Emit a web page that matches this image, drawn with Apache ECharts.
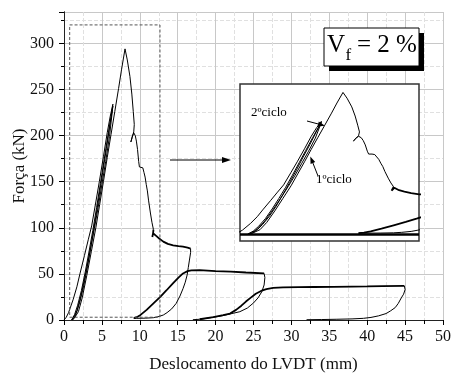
<!DOCTYPE html>
<html><head><meta charset="utf-8">
<script src="https://cdn.jsdelivr.net/npm/echarts@6/dist/echarts.min.js"></script>
<style>html,body{margin:0;padding:0;background:#fff}#c{width:452px;height:374px}</style>
</head><body><div id="c"></div>
<script>
// ---- tick values / labels ----
const xTicks = [0, 5, 10, 15, 20, 25, 30, 35, 40, 45, 50];
const yTicks = [0, 50, 100, 150, 200, 250, 300];
const yTop = 334;
const xTitle = 'Deslocamento do LVDT (mm)';
const yTitle = 'Força (kN)';

// ---- initial load/unload cycles ----
const load1 = [[0,0],[0.3,3],[0.6,8],[1.2,22],[1.7,36],[2.1,50],[2.7,70],[3.2,87],[3.65,102],[4.2,128],[4.66,150],[5.2,177],[5.7,203],[6.1,221],[6.45,234]];
const unload1 = [[6.45,234],[6.2,220],[5.8,200],[5.3,174],[4.8,148],[4.3,122],[3.8,97],[3.3,74],[2.8,52],[2.3,32],[1.8,16],[1.4,6],[1.0,0]];
const load2 = [[1.0,0],[1.3,3],[1.7,10],[2.2,25],[2.8,48],[3.4,73],[4.0,99],[4.5,122],[5.0,147],[5.5,172],[6.0,199],[6.45,232]];
const unload2 = [[6.45,232],[6.1,214],[5.6,186],[5.1,160],[4.6,133],[4.1,107],[3.6,82],[3.1,58],[2.6,37],[2.1,20],[1.7,9],[1.35,2],[1.1,0]];
const load3 = [[1.1,0],[1.4,2.5],[1.9,9],[2.4,24],[3.0,48],[3.6,74],[4.2,100],[4.7,125],[5.2,150],[5.7,176],[6.2,201],[6.7,226],[7.2,251],[7.6,272],[8.05,294]];
// ---- post-peak softening ----
const postPeak = [[8.05,294],[8.35,282],[8.7,264],[8.95,245],[9.14,226],[9.27,212],[9.2,204],[9.0,198],[8.82,193],[9.0,199],[9.2,203],[9.4,200],[9.55,194],[9.7,185],[9.85,172],[9.95,166],[10.2,166],[10.4,165],[10.55,160],[10.7,155],[10.85,147],[11.0,140],[11.15,130],[11.4,116],[11.6,106],[11.8,98]];
const plateau1 = [[11.8,98],[11.75,94],[11.65,90],[11.75,94],[11.85,96],[12.2,91],[12.6,88],[13.1,85],[13.7,82.5],[14.4,81],[15.1,80],[15.7,79.5],[16.3,78.5],[16.7,77.5]];
const unload3 = [[16.7,77.5],[16.7,73],[16.55,65],[16.4,57],[16.25,49],[16.0,41],[15.7,34],[15.3,26],[14.8,18],[14.2,12],[13.6,8],[13.1,5.4],[12.4,3.5],[11.8,2.5],[10.8,2],[9.6,1.8],[9.2,1.8]];
const reload3 = [[9.2,2],[9.6,3],[10.1,5.5],[10.9,11],[11.8,18],[12.7,25],[13.5,32],[14.4,40],[15.1,46],[15.7,50.5],[16.3,53],[16.8,53.8],[17.9,54],[20,53],[22,52.5],[24,51.5],[26.4,50.5]];
const unload4 = [[26.4,50.5],[26.5,46],[26.4,38],[26.1,30.7],[25.6,24],[25,18.5],[24.2,13],[23.2,9],[21.9,6.5],[20.8,4.5],[19.7,3],[18.8,1.8],[17.9,0.8],[17,0.3]];
const reload4 = [[17.9,0.8],[19.7,3.2],[21,5.2],[21.9,7],[22.7,11],[23.4,15.5],[24,20],[24.6,24],[25.3,28.5],[26,31.5],[26.7,33.5],[27.6,34.8],[28.9,35.4],[31,35.6],[33,35.8],[35.5,36],[38,36.3],[40,36.5],[42,36.8],[44.9,37]];
const unload5 = [[44.9,37],[45,33],[44.8,28],[44.5,24],[44.1,18],[43.7,13.5],[43.1,10],[42.5,7],[41.5,4.5],[40.5,2.8],[39.5,1.8],[38,1.2],[36,0.8],[34,0.5],[32,0.3]];
// ---- zoom window drawn as dashed box (data units) ----
const zoomBox = [[0.75,3],[12.66,3],[12.66,320],[0.75,320],[0.75,3]];
const insetX = [0.42, 13.68];
const insetY = [-14.5, 311.5];

const curves = [
  [load1,1],[unload1,1],[load2,1],[unload2,1],[load3,1],
  [postPeak,1],[plateau1,1.8],[unload3,1],[reload3,1.8],
  [unload4,1],[reload4,1.8],[unload5,1]
];

const FONT = 'Liberation Serif';
const series = [];
curves.forEach(([d,w]) => {
  series.push({type:'line', data:d, xAxisIndex:0, yAxisIndex:0, showSymbol:false, symbol:'none',
    lineStyle:{color:'#000', width:w}, z:3, silent:true, animation:false});
});
curves.forEach(([d,w], i) => {
  const s = {type:'line', data:d, xAxisIndex:2, yAxisIndex:2, showSymbol:false, symbol:'none',
    lineStyle:{color:'#000', width:w}, z:10, silent:true, animation:false};
  if (i === 0) {
    s.markLine = {silent:true, symbol:'none', label:{show:false}, animation:false,
      lineStyle:{color:'#000', width:2.5, type:'solid'}, data:[{yAxis:0}]};
  }
  series.push(s);
});
series.push({type:'line', data:zoomBox, xAxisIndex:0, yAxisIndex:0, showSymbol:false, symbol:'none',
  lineStyle:{color:'#555', width:1, type:[3,2]}, z:4, silent:true, animation:false});

const chart = echarts.init(document.getElementById('c'), null, {renderer:'canvas'});
const lbl = {fontFamily:FONT, fontSize:16, color:'#111'};
chart.setOption({
  animation:false,
  backgroundColor:'#fff',
  grid:[
    {left:64, right:9, top:12, bottom:54, containLabel:false, outerBoundsMode:'none'},
    {left:240, top:84, width:179, height:157, show:true, backgroundColor:'#fff', borderColor:'#333', borderWidth:1.5, z:5, containLabel:false, outerBoundsMode:'none'}
  ],
  xAxis:[
    {type:'value', gridIndex:0, position:'bottom', min:xTicks[0], max:xTicks[xTicks.length-1], interval:xTicks[1]-xTicks[0],
     axisLine:{lineStyle:{color:'#000', width:1}}, axisTick:{inside:false, length:5, lineStyle:{color:'#000'}},
     minorTick:{show:true, splitNumber:2, length:3, lineStyle:{color:'#000'}},
     splitLine:{show:true, lineStyle:{color:'#c8c8c8', width:1}},
     minorSplitLine:{show:true, lineStyle:{color:'#e0e0e0', width:1, type:[4,2]}},
     axisLabel:Object.assign({margin:9}, lbl),
     name:xTitle, nameLocation:'middle', nameGap:36, nameMoveOverlap:false, nameTextStyle:{fontFamily:FONT, fontSize:17, color:'#111'}},
    {type:'value', gridIndex:0, position:'top', min:xTicks[0], max:xTicks[xTicks.length-1], interval:(xTicks[1]-xTicks[0])/2,
     axisLine:{lineStyle:{color:'#222', width:1}}, axisTick:{inside:true, length:4, lineStyle:{color:'#000'}},
     axisLabel:{show:false}, splitLine:{show:false}},
    {type:'value', gridIndex:1, min:insetX[0], max:insetX[1], show:false, splitLine:{show:false}}
  ],
  yAxis:[
    {type:'value', gridIndex:0, position:'left', min:yTicks[0], max:yTop, interval:yTicks[1]-yTicks[0],
     axisLine:{show:true, lineStyle:{color:'#000', width:1}}, axisTick:{show:true, inside:false, length:5, lineStyle:{color:'#000'}},
     minorTick:{show:true, splitNumber:2, length:3, lineStyle:{color:'#000'}},
     splitLine:{show:true, lineStyle:{color:'#c8c8c8', width:1}},
     minorSplitLine:{show:true, lineStyle:{color:'#e0e0e0', width:1, type:[4,2]}},
     axisLabel:Object.assign({margin:10, showMaxLabel:false}, lbl),
     name:yTitle, nameLocation:'middle', nameGap:36, nameRotate:90, nameMoveOverlap:false, nameTextStyle:{fontFamily:FONT, fontSize:17, color:'#111'}},
    {type:'value', gridIndex:0, position:'right', min:yTicks[0], max:yTop, interval:yTicks[1]-yTicks[0],
     axisLine:{show:true, lineStyle:{color:'#222', width:1}}, axisTick:{show:true, inside:true, length:5, lineStyle:{color:'#000'}},
     minorTick:{show:true, splitNumber:2, length:3, lineStyle:{color:'#000'}},
     axisLabel:{show:false}, splitLine:{show:false}},
    {type:'value', gridIndex:1, min:insetY[0], max:insetY[1], show:false, splitLine:{show:false}}
  ],
  series:series,
  graphic:[
    {type:'rect', shape:{x:329, y:33, width:95, height:38}, style:{fill:'#000'}, z:20},
    {type:'rect', shape:{x:324, y:28, width:95, height:38}, style:{fill:'#fff', stroke:'#000', lineWidth:1}, z:21},
    {type:'text', x:327, y:45, style:{text:'V', font:'25px "Liberation Serif"', fill:'#000', verticalAlign:'middle'}, z:22},
    {type:'text', x:345.5, y:56, style:{text:'f', font:'17px "Liberation Serif"', fill:'#000', verticalAlign:'middle'}, z:22},
    {type:'text', x:357, y:45, style:{text:'= 2 %', font:'25px "Liberation Serif"', fill:'#000', verticalAlign:'middle'}, z:22},
    // main arrow
    {type:'line', shape:{x1:170, y1:160, x2:225, y2:160}, style:{stroke:'#000', lineWidth:1}, z:20},
    {type:'polygon', shape:{points:[[231,160],[222,157],[222,163]]}, style:{fill:'#000'}, z:20},
    // inset labels
    {type:'text', x:251, y:112.5, style:{text:'2ºciclo', font:'13px "Liberation Serif"', fill:'#000', verticalAlign:'middle'}, z:22},
    {type:'text', x:316, y:179.5, style:{text:'1ºciclo', font:'13px "Liberation Serif"', fill:'#000', verticalAlign:'middle'}, z:22},
    {type:'line', shape:{x1:307, y1:121, x2:319, y2:124.2}, style:{stroke:'#000', lineWidth:1}, z:22},
    {type:'polygon', shape:{points:[[325,125.8],[317.6,126.4],[318.8,121.6]]}, style:{fill:'#000'}, z:22},
    {type:'line', shape:{x1:318, y1:176, x2:312.5, y2:162}, style:{stroke:'#000', lineWidth:1}, z:22},
    {type:'polygon', shape:{points:[[310.3,156.5],[315.2,162.1],[310.6,163.9]]}, style:{fill:'#000'}, z:22}
  ]
});
</script></body></html>
